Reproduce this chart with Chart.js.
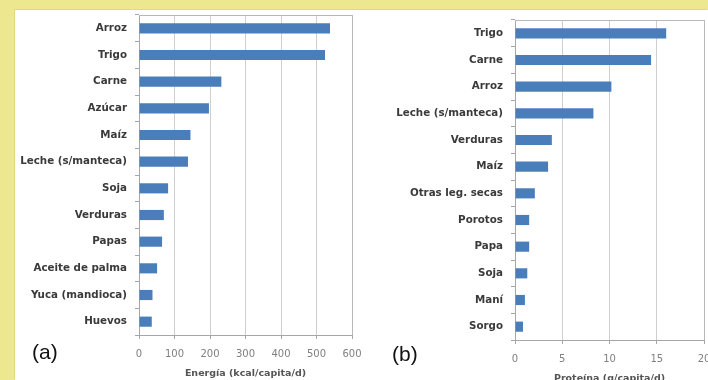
<!DOCTYPE html>
<html>
<head>
<meta charset="utf-8">
<script src="https://cdn.jsdelivr.net/npm/chart.js@4"></script>
<style>
html, body { margin: 0; padding: 0; width: 708px; height: 380px; overflow: hidden; background: #ede78f; }
#panel { position: absolute; left: 15px; top: 10px; width: 693px; height: 370px; background: #fff; box-shadow: -1px -1px 0 #e1d97c; }
canvas { position: absolute; }
#chartA { left: 15px; top: 10px; }
#chartB { left: 360px; top: 10px; }
.tag { position: absolute; font-family: 'Liberation Sans Narrow', 'Arial Narrow', 'Liberation Sans', sans-serif; font-size: 21px; color: #111; line-height: 22px; }
</style>
</head>
<body>
<div id="panel"></div>
<canvas id="chartA" width="360" height="370"></canvas>
<canvas id="chartB" width="360" height="380"></canvas>
<div class="tag" style="left:32px;top:341px">(a)</div>
<div class="tag" style="left:392px;top:343px">(b)</div>
<script>
// (a) energía por alimento
const alimentosA = ['Arroz', 'Trigo', 'Carne', 'Azúcar', 'Maíz', 'Leche (s/manteca)', 'Soja', 'Verduras', 'Papas', 'Aceite de palma', 'Yuca (mandioca)', 'Huevos'];
const energia = [538, 524, 232, 197, 145, 138, 82, 70, 65, 51, 38, 36];
const ejeA = { min: 0, max: 600, step: 100, titulo: 'Energía (kcal/capita/d)' };

// (b) proteína por alimento
const alimentosB = ['Trigo', 'Carne', 'Arroz', 'Leche (s/manteca)', 'Verduras', 'Maíz', 'Otras leg. secas', 'Porotos', 'Papa', 'Soja', 'Maní', 'Sorgo'];
const proteina = [16.0, 14.4, 10.2, 8.3, 3.9, 3.5, 2.1, 1.5, 1.5, 1.3, 1.05, 0.85];
const ejeB = { min: 0, max: 20, step: 5, titulo: 'Proteína (g/capita/d)' };

const azul = '#4a7ebb';
const fuente = 'DejaVu Sans';

// borde gris arriba y a la derecha del area de trazado
const bordePlot = {
    id: 'bordePlot',
    afterDatasetsDraw(chart) {
        const { ctx, chartArea: a } = chart;
        ctx.save();
        ctx.strokeStyle = '#b8b8b8';
        ctx.lineWidth = 1;
        ctx.beginPath();
        ctx.moveTo(a.left, a.top + 0.5);
        ctx.lineTo(a.right + 0.5, a.top + 0.5);
        ctx.lineTo(a.right + 0.5, a.bottom);
        ctx.stroke();
        ctx.restore();
    }
};

function crearGrafico(id, labels, valores, eje, o) {
    const ctx = document.getElementById(id).getContext('2d');
    return new Chart(ctx, {
        type: 'bar',
        data: {
            labels: labels,
            datasets: [{
                data: valores,
                backgroundColor: azul,
                barPercentage: 0.38,
                categoryPercentage: 1
            }]
        },
        options: {
            indexAxis: 'y',
            responsive: false,
            animation: false,
            devicePixelRatio: 1,
            layout: { padding: { left: 0, right: o.padRight, top: o.padTop, bottom: 0 } },
            plugins: { legend: { display: false }, tooltip: { enabled: false } },
            scales: {
                x: {
                    min: eje.min,
                    max: eje.max,
                    afterFit: s => { s.height = o.altoX; s.paddingLeft = 0; s.paddingRight = 0; },
                    ticks: { stepSize: eje.step, color: '#7f7f7f', padding: o.padTicksX, font: { family: fuente, size: 10 } },
                    grid: { color: '#cfcfcf', tickLength: 4, tickColor: '#a6a6a6' },
                    border: { color: '#a6a6a6' },
                    title: {
                        display: true,
                        text: eje.titulo,
                        color: '#555',
                        padding: { top: 0, bottom: o.padTitulo },
                        font: { family: fuente, size: 9.5, weight: 'bold' }
                    }
                },
                y: {
                    afterFit: s => { s.width = o.anchoY; s.paddingTop = 0; s.paddingBottom = 0; },
                    ticks: { color: '#3a3a3a', padding: 8, font: { family: fuente, size: 10.3, weight: 'bold' } },
                    grid: { drawOnChartArea: false, tickLength: 4, color: '#a6a6a6' },
                    border: { color: '#a6a6a6' }
                }
            }
        },
        plugins: [bordePlot]
    });
}

crearGrafico('chartA', alimentosA, energia, ejeA, { anchoY: 124, padRight: 23, padTop: 5, altoX: 45, padTicksX: 9, padTitulo: 1 });
crearGrafico('chartB', alimentosB, proteina, ejeB, { anchoY: 155, padRight: 16, padTop: 10, altoX: 50, padTicksX: 9, padTitulo: 6 });
</script>
</body>
</html>
